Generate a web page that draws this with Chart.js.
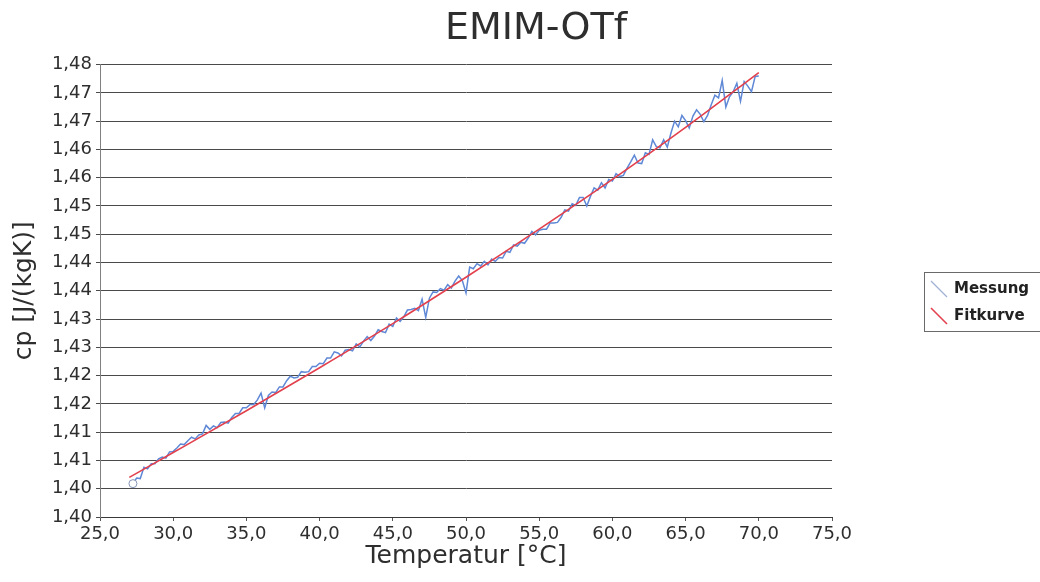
<!DOCTYPE html>
<html>
<head>
<meta charset="utf-8">
<script src="https://cdn.jsdelivr.net/npm/chart.js@4.4.1/dist/chart.umd.min.js"></script>
<style>
  html, body { margin: 0; padding: 0; background: #ffffff; }
  #wrap { width: 1040px; height: 582px; position: relative; }
</style>
</head>
<body>
<div id="wrap"><canvas id="c" width="1040" height="582"></canvas></div>
<script>
const chartTitle = 'EMIM-OTf';
const xTitle = 'Temperatur [°C]';
const yTitle = 'cp [J/(kgK)]';
const seriesNames = ['Messung', 'Fitkurve'];

const xTickLabels = ['25,0','30,0','35,0','40,0','45,0','50,0','55,0','60,0','65,0','70,0','75,0'];
const yTickLabels = ['1,40','1,40','1,41','1,41','1,42','1,42','1,43','1,43','1,44','1,44','1,45','1,45','1,46','1,46','1,47','1,47','1,48'];

const measTemp = [
  27.25,27.5,27.75,28,28.25,28.5,28.75,29,29.25,29.5,29.75,30,
  30.25,30.5,30.75,31,31.25,31.5,31.75,32,32.25,32.5,32.75,33,
  33.25,33.5,33.75,34,34.25,34.5,34.75,35,35.25,35.5,35.75,36,
  36.25,36.5,36.75,37,37.25,37.5,37.75,38,38.25,38.5,38.75,39,
  39.25,39.5,39.75,40,40.25,40.5,40.75,41,41.25,41.5,41.75,42,
  42.25,42.5,42.75,43,43.25,43.5,43.75,44,44.25,44.5,44.75,45,
  45.25,45.5,45.75,46,46.25,46.5,46.75,47,47.25,47.5,47.75,48,
  48.25,48.5,48.75,49,49.25,49.5,49.75,50,50.25,50.5,50.75,51,
  51.25,51.5,51.75,52,52.25,52.5,52.75,53,53.25,53.5,53.75,54,
  54.25,54.5,54.75,55,55.25,55.5,55.75,56,56.25,56.5,56.75,57,
  57.25,57.5,57.75,58,58.25,58.5,58.75,59,59.25,59.5,59.75,60,
  60.25,60.5,60.75,61,61.25,61.5,61.75,62,62.25,62.5,62.75,63,
  63.25,63.5,63.75,64,64.25,64.5,64.75,65,65.25,65.5,65.75,66,
  66.25,66.5,66.75,67,67.25,67.5,67.75,68,68.25,68.5,68.75,69,
  69.25,69.5,69.75,70
];
const measCp = [
  1.4059,1.4069,1.4068,1.4088,1.4085,1.4094,1.4094,1.4103,1.4106,1.4104,1.4115,1.4116,
  1.4122,1.4129,1.4128,1.4135,1.4141,1.4138,1.4145,1.4147,1.4162,1.4155,1.4161,1.4158,
  1.4167,1.4168,1.4166,1.4176,1.4183,1.4183,1.4193,1.4193,1.4199,1.4199,1.4207,1.4219,
  1.4193,1.4215,1.4221,1.4220,1.4230,1.4230,1.4241,1.4249,1.4246,1.4247,1.4257,1.4256,
  1.4257,1.4266,1.4266,1.4272,1.4271,1.4281,1.4281,1.4292,1.4290,1.4285,1.4295,1.4296,
  1.4294,1.4306,1.4301,1.4311,1.4319,1.4312,1.4320,1.4331,1.4328,1.4326,1.4341,1.4337,
  1.4352,1.4346,1.4354,1.4366,1.4367,1.4369,1.4365,1.4385,1.4353,1.4387,1.4398,1.4397,
  1.4404,1.4401,1.4411,1.4405,1.4417,1.4426,1.4418,1.4396,1.4442,1.4439,1.4448,1.4444,
  1.4452,1.4446,1.4456,1.4452,1.4459,1.4458,1.4470,1.4468,1.4481,1.4479,1.4486,1.4484,
  1.4493,1.4505,1.4499,1.4507,1.4509,1.4509,1.4520,1.4520,1.4521,1.4530,1.4543,1.4541,
  1.4554,1.4551,1.4565,1.4565,1.4550,1.4567,1.4582,1.4578,1.4591,1.4582,1.4597,1.4594,
  1.4607,1.4602,1.4604,1.4617,1.4628,1.4640,1.4626,1.4625,1.4644,1.4641,1.4667,1.4655,
  1.4653,1.4667,1.4654,1.4679,1.4700,1.4690,1.4710,1.4701,1.4688,1.4709,1.4720,1.4712,
  1.4699,1.4710,1.4729,1.4746,1.4741,1.4772,1.4725,1.4743,1.4752,1.4767,1.4735,1.4770,
  1.4762,1.4752,1.4779,1.4780
];

const fitTemp = [27, 30, 35, 40, 45, 50, 55, 60, 65, 70];
const fitCp   = [1.4070, 1.4114, 1.4188, 1.4264, 1.4342, 1.4424, 1.4509, 1.4597, 1.4689, 1.4786];

const FONT = "'DejaVu Sans', 'Noto Sans', sans-serif";

function makeIcon(color, width) {
  const c = document.createElement('canvas');
  c.width = 18; c.height = 18;
  const g = c.getContext('2d');
  g.strokeStyle = color; g.lineWidth = width;
  g.beginPath(); g.moveTo(1, 1); g.lineTo(17, 17); g.stroke();
  return c;
}
const legendIcons = [makeIcon('#9fb2d6', 1.2), makeIcon('#e2404c', 1.6)];

const placeBoxes = {
  id: 'placeBoxes',
  afterLayout(chart) {
    const lg = chart.legend;
    if (lg) {
      lg.left = 919.5; lg.top = 269.5; lg.width = 220; lg.height = 90;
      lg.right = lg.left + lg.width; lg.bottom = lg.top + lg.height;
    }
    const tb = chart.titleBlock;
    if (tb) { tb.left = 32; tb.right = 1040; tb.width = 1008; }
  },
  afterDraw(chart) {
    const ctx = chart.ctx;
    ctx.save();
    ctx.strokeStyle = '#6a6a6a';
    ctx.lineWidth = 1;
    ctx.strokeRect(924.5, 272.5, 160, 59);
    ctx.restore();
  }
};

new Chart(document.getElementById('c'), {
  type: 'scatter',
  data: {
    datasets: [
      {
        label: seriesNames[0],
        data: measTemp.map((t, i) => ({ x: t, y: measCp[i] })),
        showLine: true,
        borderColor: '#5f88d6',
        borderWidth: 1.5,
        backgroundColor: '#ffffff',
        pointRadius: (ctx) => ctx.dataIndex === 0 ? 4 : 0,
        pointBorderColor: '#8494b4',
        pointBackgroundColor: '#ffffff',
        pointBorderWidth: 1,
        pointHoverRadius: 0,
        tension: 0,
        order: 1
      },
      {
        label: seriesNames[1],
        data: fitTemp.map((t, i) => ({ x: t, y: fitCp[i] })),
        showLine: true,
        borderColor: '#e2404c',
        borderWidth: 1.6,
        backgroundColor: '#e2404c',
        pointRadius: 0,
        pointHoverRadius: 0,
        cubicInterpolationMode: 'monotone',
        order: 0
      }
    ]
  },
  options: {
    responsive: false,
    animation: false,
    devicePixelRatio: 1,
    layout: { padding: { left: 0, right: 208, top: 0, bottom: 0 } },
    plugins: {
      title: {
        display: true,
        text: chartTitle,
        color: '#2e2e2e',
        font: { family: FONT, size: 38, weight: 'normal' },
        padding: { top: 6, bottom: 13 }
      },
      legend: {
        display: true,
        position: 'chartArea',
        align: 'start',
        labels: {
          usePointStyle: true,
          boxWidth: 15,
          boxHeight: 15,
          padding: 12,
          color: '#222222',
          font: { family: FONT, size: 15, weight: 'bold' },
          sort: (a, b) => a.datasetIndex - b.datasetIndex,
          generateLabels(chart) {
            const items = Chart.defaults.plugins.legend.labels.generateLabels(chart);
            items.forEach((it) => { it.pointStyle = legendIcons[it.datasetIndex]; });
            return items;
          }
        }
      },
      tooltip: { enabled: false }
    },
    scales: {
      x: {
        type: 'linear',
        min: 25, max: 75,
        ticks: {
          stepSize: 5,
          autoSkip: false,
          maxRotation: 0,
          padding: 3,
          color: '#2e2e2e',
          font: { family: FONT, size: 18 },
          callback: (v, i) => xTickLabels[i]
        },
        grid: { drawOnChartArea: false, drawTicks: true, tickLength: 4, color: '#555555' },
        border: { display: true, color: '#3a3a3a' },
        title: {
          display: true,
          text: xTitle,
          color: '#2e2e2e',
          font: { family: FONT, size: 25 },
          padding: { top: 0, bottom: 11 }
        },
        afterFit(s) { s.height = 65; }
      },
      y: {
        type: 'linear',
        min: 1.40, max: 1.48,
        ticks: {
          stepSize: 0.005,
          autoSkip: false,
          padding: 4,
          color: '#2e2e2e',
          font: { family: FONT, size: 18 },
          callback: (v, i) => yTickLabels[i]
        },
        grid: { color: '#4a4a4a', lineWidth: 1, drawTicks: true, tickLength: 4 },
        border: { display: true, color: '#808080' },
        title: {
          display: true,
          text: yTitle,
          color: '#2e2e2e',
          font: { family: FONT, size: 25 },
          padding: { top: 9, bottom: 0 }
        },
        afterFit(s) { s.width = 100; }
      }
    }
  },
  plugins: [placeBoxes]
});
</script>
</body>
</html>
